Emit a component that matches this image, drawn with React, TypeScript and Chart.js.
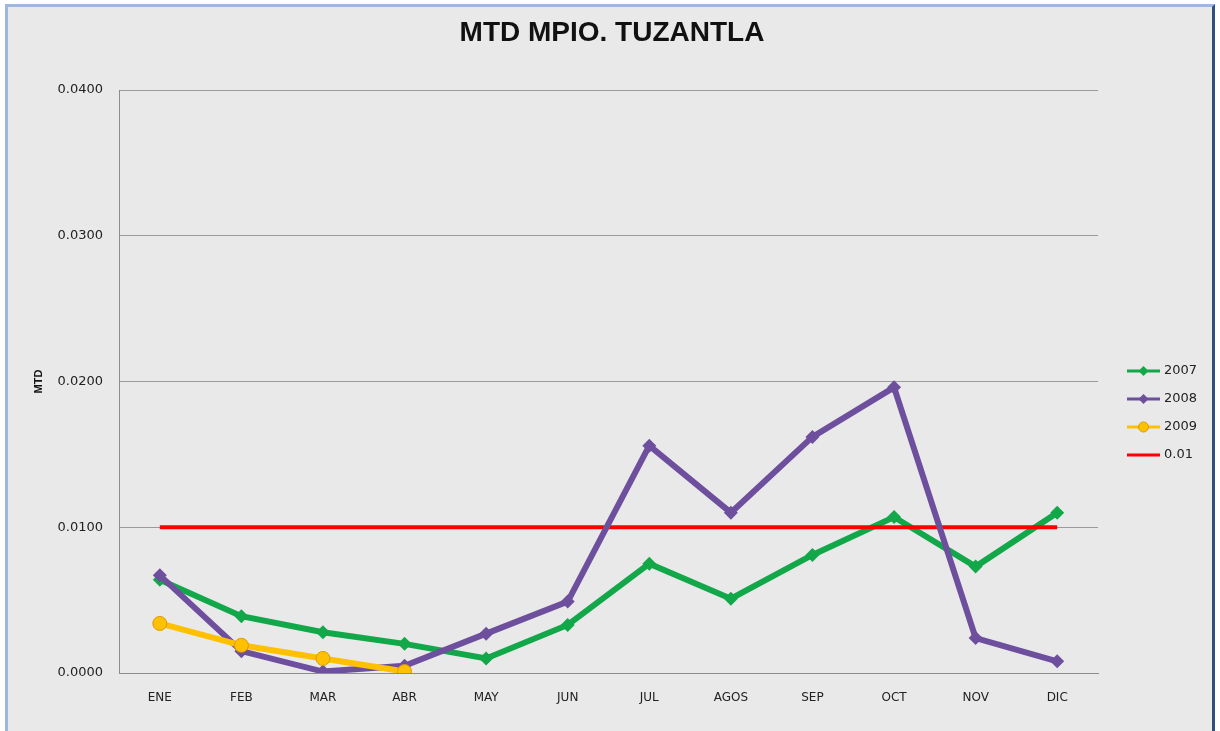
import React, { useEffect, useRef } from "react";
import { Chart, registerables } from "chart.js";

Chart.register(...registerables);

const categories = ["ENE", "FEB", "MAR", "ABR", "MAY", "JUN", "JUL", "AGOS", "SEP", "OCT", "NOV", "DIC"];
const series2007 = [0.0064, 0.0039, 0.0028, 0.002, 0.001, 0.0033, 0.0075, 0.0051, 0.0081, 0.0107, 0.0073, 0.011];
const series2008 = [0.0067, 0.0015, 0.0001, 0.0005, 0.0027, 0.0049, 0.0156, 0.011, 0.0162, 0.0196, 0.0024, 0.0008];
const series2009 = [0.0034, 0.0019, 0.001, 0.0001];
const threshold = [0.01, 0.01, 0.01, 0.01, 0.01, 0.01, 0.01, 0.01, 0.01, 0.01, 0.01, 0.01];
const yTicks = [0, 0.01, 0.02, 0.03, 0.04];

const GREEN = "#12a84a";
const PURPLE = "#6e4f9e";
const YELLOW = "#ffc000";
const RED = "#ff0000";
const FONT = "'DejaVu Sans', Verdana, sans-serif";

const legendPlugin = {
  id: "customLegend",
  afterDraw(chart: any) {
    const ctx = chart.ctx;
    ctx.save();
    const items = [
      { label: "2007", color: GREEN, marker: "diamond" },
      { label: "2008", color: PURPLE, marker: "diamond" },
      { label: "2009", color: YELLOW, marker: "circle" },
      { label: "0.01", color: RED, marker: "none" },
    ];
    const x0 = 1127;
    const x1 = 1160;
    const ys = [371, 399, 427, 455];
    items.forEach((it, i) => {
      const y = ys[i];
      ctx.strokeStyle = it.color;
      ctx.lineWidth = 3;
      ctx.beginPath();
      ctx.moveTo(x0, y);
      ctx.lineTo(x1, y);
      ctx.stroke();
      const cx = (x0 + x1) / 2;
      ctx.fillStyle = it.color;
      if (it.marker === "diamond") {
        ctx.beginPath();
        ctx.moveTo(cx, y - 5);
        ctx.lineTo(cx + 5, y);
        ctx.lineTo(cx, y + 5);
        ctx.lineTo(cx - 5, y);
        ctx.closePath();
        ctx.fill();
      } else if (it.marker === "circle") {
        ctx.beginPath();
        ctx.arc(cx, y, 5, 0, Math.PI * 2);
        ctx.fill();
        ctx.strokeStyle = "#d89a00";
        ctx.lineWidth = 1;
        ctx.stroke();
      }
      ctx.fillStyle = "#222";
      ctx.font = "13px " + FONT;
      ctx.textAlign = "left";
      ctx.textBaseline = "middle";
      ctx.fillText(it.label, x1 + 4, y);
    });
    ctx.restore();
  },
};

const titlePlugin = {
  id: "customTitle",
  afterDraw(chart: any) {
    const ctx = chart.ctx;
    ctx.save();
    ctx.fillStyle = "#111";
    ctx.font = "bold 28px 'Liberation Sans', Arial, sans-serif";
    ctx.textAlign = "center";
    ctx.textBaseline = "middle";
    ctx.fillText("MTD MPIO. TUZANTLA", 612, 33);
    ctx.restore();
  },
};

export default function App() {
  const canvasRef = useRef<HTMLCanvasElement | null>(null);

  useEffect(() => {
    if (!canvasRef.current) return;
    const chart = new Chart(canvasRef.current, {
      type: "line",
      data: {
        labels: categories,
        datasets: [
          {
            label: "2009",
            data: series2009,
            borderColor: YELLOW,
            backgroundColor: YELLOW,
            borderWidth: 6,
            pointStyle: "circle",
            pointRadius: 7,
            pointBorderColor: "#d89a00",
            pointBorderWidth: 1,
            tension: 0,
            order: 0,
          },
          {
            label: "2008",
            data: series2008,
            borderColor: PURPLE,
            backgroundColor: PURPLE,
            borderWidth: 6,
            pointStyle: "rectRot",
            pointRadius: 7,
            pointBorderWidth: 0,
            tension: 0,
            order: 1,
          },
          {
            label: "0.01",
            data: threshold,
            borderColor: RED,
            backgroundColor: RED,
            borderWidth: 4,
            pointRadius: 0,
            tension: 0,
            order: 2,
          },
          {
            label: "2007",
            data: series2007,
            borderColor: GREEN,
            backgroundColor: GREEN,
            borderWidth: 6,
            pointStyle: "rectRot",
            pointRadius: 7,
            pointBorderWidth: 0,
            tension: 0,
            order: 3,
          },
        ],
      },
      options: {
        animation: false,
        responsive: false,
        maintainAspectRatio: false,
        layout: { padding: { left: 32, right: 122, top: 90, bottom: 0 } },
        plugins: {
          legend: { display: false },
          title: { display: false },
          tooltip: { enabled: false },
        },
        scales: {
          x: {
            type: "category",
            offset: true,
            grid: { display: false, drawTicks: false },
            border: { display: true, color: "#8c8c8c", width: 1 },
            ticks: {
              color: "#222",
              font: { size: 12, family: FONT },
              padding: 18,
              maxRotation: 0,
              autoSkip: false,
            },
            afterFit: (s: any) => {
              s.height = 58;
            },
          },
          y: {
            min: 0,
            max: 0.04,
            afterBuildTicks: (s: any) => {
              s.ticks = yTicks.map((v) => ({ value: v }));
            },
            grid: { color: "#9a9a9a", lineWidth: 1, drawTicks: false },
            border: { display: true, color: "#8c8c8c", width: 1 },
            ticks: {
              color: "#222",
              font: { size: 13, family: FONT },
              padding: 16,
              callback: (v: any) => Number(v).toFixed(4),
            },
            title: {
              display: true,
              text: "MTD",
              color: "#111",
              font: { size: 11, weight: "bold", family: "'Liberation Sans', Arial, sans-serif" },
              padding: { top: 0, bottom: 0 },
            },
            afterFit: (s: any) => {
              s.width = 87;
            },
          },
        },
      },
      plugins: [titlePlugin, legendPlugin],
    });
    return () => chart.destroy();
  }, []);

  return (
    <div style={{ position: "absolute", left: 0, top: 0, width: 1220, height: 731, background: "#ffffff", overflow: "hidden" }}>
      <div
        style={{
          position: "absolute",
          left: 5,
          top: 4,
          width: 1210,
          height: 740,
          background: "#e9e9e9",
          borderLeft: "3px solid #9db8dc",
          borderTop: "3px solid #9db8dc",
          borderRight: "3px solid #2f4f7f",
          boxSizing: "border-box",
        }}
      />
      <canvas ref={canvasRef} width={1220} height={731} style={{ position: "absolute", left: 0, top: 0 }} />
    </div>
  );
}
